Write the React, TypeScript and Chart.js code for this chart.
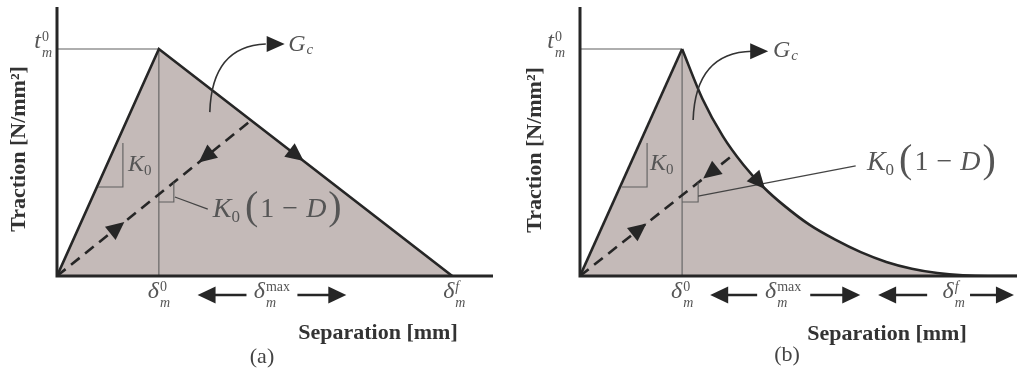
import { useEffect, useRef } from "react";
import { Chart, registerables } from "chart.js";

Chart.register(...registerables);

// Separation is normalised to the onset value δ_m^0, traction to t_m^0.
const X_MAX = 4.28;
const Y_MAX = 1.185;
const PEAK_SEP = 1;
const PEAK_TRAC = 1;

// (a) bilinear law
const linearSepA = [0, 1, 3.88];
const linearTracA = [0, 1, 0];
const unloadSepA = [0, 1.91];
const unloadTracA = [0, 0.687];

// (b) linear rise followed by exponential softening
const riseSepB = [0, 1];
const riseTracB = [0, 1];
const softSepB = [1, 1.2, 1.4, 1.6, 1.8, 2.0, 2.25, 2.5, 2.75, 3.0, 3.25, 3.5, 3.75, 4.0, 4.28];
const softTracB = [1, 0.78, 0.615, 0.49, 0.39, 0.31, 0.225, 0.16, 0.105, 0.062, 0.032, 0.013, 0.003, 0, 0];
const unloadSepB = [0, 1.51];
const unloadTracB = [0, 0.537];

// separation tick labels δ_m^{0 | max | f}
const tickSup = ["0", "max", "f"];
const tickSupItalic = [false, false, true];
const tickPosA = [1, 2.11, 3.9];
const tickPosB = [1, 1.99, 3.66];
const rangeArrowsA: [number, number][] = [[1.86, 1.38], [2.36, 2.84]];
const rangeArrowsB: [number, number][] = [[1.735, 1.275], [2.255, 2.745], [3.4, 2.92], [3.82, 4.25]];

const FILL = "#c4bab8";
const INK = "#262626";
const THIN = "#5e5e5e";
const LABEL = "#555555";
const TITLE = "#333333";
const SERIF = "'Liberation Serif', 'Times New Roman', serif";

type Run = { s: string; size: number; italic?: boolean; bold?: boolean; dy?: number; gap?: number; stack?: boolean };

const runFont = (r: Run) => `${r.italic ? "italic " : ""}${r.bold ? "bold " : ""}${r.size}px ${SERIF}`;

function layoutRuns(ctx: CanvasRenderingContext2D, runs: Run[]) {
  const out: { r: Run; x: number }[] = [];
  let x = 0, lastStart = 0, lastW = 0;
  for (const r of runs) {
    ctx.font = runFont(r);
    const w = ctx.measureText(r.s).width;
    if (r.stack) {
      out.push({ r, x: lastStart });
      const adv = Math.max(lastW, w);
      x = lastStart + adv;
      lastW = adv;
    } else {
      x += r.gap ?? 0;
      out.push({ r, x });
      lastStart = x;
      lastW = w;
      x += w;
    }
  }
  return { items: out, width: x };
}

function drawRuns(ctx: CanvasRenderingContext2D, runs: Run[], x0: number, base: number, align: "left" | "center" | "right", color: string) {
  const { items, width } = layoutRuns(ctx, runs);
  const start = align === "left" ? x0 : align === "center" ? x0 - width / 2 : x0 - width;
  ctx.fillStyle = color;
  ctx.textAlign = "left";
  ctx.textBaseline = "alphabetic";
  for (const it of items) {
    ctx.font = runFont(it.r);
    ctx.fillText(it.r.s, start + it.x, base + (it.r.dy ?? 0));
  }
}

const symbol = (base: string, sup: string, supItalic: boolean, sub: string, size: number): Run[] => [
  { s: base, size, italic: true },
  { s: sup, size: Math.round(size * 0.6), italic: supItalic, dy: -Math.round(size * 0.28), gap: 1 },
  { s: sub, size: Math.round(size * 0.6), italic: true, dy: Math.round(size * 0.38), stack: true },
];

const degradedStiffness: Run[] = [
  { s: "K", size: 28, italic: true },
  { s: "0", size: 17, dy: 5, gap: 0 },
  { s: "(", size: 40, dy: 2, gap: 5 },
  { s: "1", size: 28, gap: 2 },
  { s: "\u2212", size: 28, gap: 8 },
  { s: "D", size: 28, italic: true, gap: 8 },
  { s: ")", size: 40, dy: 2, gap: 2 },
];
const initialStiffness: Run[] = [
  { s: "K", size: 24, italic: true },
  { s: "0", size: 15, dy: 4, gap: 0 },
];
const energy: Run[] = [
  { s: "G", size: 24, italic: true },
  { s: "c", size: 15, italic: true, dy: 3, gap: 1 },
];

function arrowHead(ctx: CanvasRenderingContext2D, tx: number, ty: number, ang: number, len: number, half: number) {
  const c = Math.cos(ang), s = Math.sin(ang);
  ctx.beginPath();
  ctx.moveTo(tx, ty);
  ctx.lineTo(tx - len * c + half * s, ty - len * s - half * c);
  ctx.lineTo(tx - len * c - half * s, ty - len * s + half * c);
  ctx.closePath();
  ctx.fill();
}

const zip = (xs: number[], ys: number[]) => xs.map((x, i) => ({ x, y: ys[i] }));

type Panel = {
  name: string;
  pad: { left: number; right: number; top: number; bottom: number };
  envelope: { x: number; y: number }[];
  unload: { x: number; y: number }[];
  datasets: any[];
  ticks: number[];
  rangeArrows: [number, number][];
  yTitle: [number, number];
  xTitle: [number, number];
  letter: [number, number];
  tOffset: number;
  slope: { x: number; y0: number; y1: number; xh: number };
  k0: [number, number];
  square: { x1: number; y: number; top: number };
  leader: [number, number, number, number];
  kd: [number, number];
  arc: number[];
  gc: [number, number];
  envArrowX: number;
  dashArrows: [number, number];
};

const guide = (order: number) => [
  { data: [{ x: 0, y: PEAK_TRAC }, { x: PEAK_SEP, y: PEAK_TRAC }], borderColor: THIN, borderWidth: 1.1, pointRadius: 0, fill: false, order },
  { data: [{ x: PEAK_SEP, y: 0 }, { x: PEAK_SEP, y: PEAK_TRAC }], borderColor: THIN, borderWidth: 1.1, pointRadius: 0, fill: false, order },
];

const dashed = (pts: { x: number; y: number }[]) => ({
  data: pts, borderColor: INK, borderWidth: 2.6, borderDash: [11, 7], pointRadius: 0, fill: false, order: 1,
});

const envA = zip(linearSepA, linearTracA);
const unlA = zip(unloadSepA, unloadTracA);
const riseB = zip(riseSepB, riseTracB);
const softB = zip(softSepB, softTracB);
const unlB = zip(unloadSepB, unloadTracB);

const PANEL_A: Panel = {
  name: "(a)",
  pad: { left: 57, right: 19, top: 7, bottom: 103 },
  envelope: envA,
  unload: unlA,
  datasets: [
    { data: envA, borderColor: INK, borderWidth: 2.6, backgroundColor: FILL, fill: "origin", pointRadius: 0, order: 0 },
    dashed(unlA),
    ...guide(2),
  ],
  ticks: tickPosA,
  rangeArrows: rangeArrowsA,
  yTitle: [19, 149],
  xTitle: [378, 333],
  letter: [262, 357],
  tOffset: 5,
  slope: { x: 0.647, y0: 0.392, y1: 0.586, xh: 0.402 },
  k0: [0.696, 0.463],
  square: { x1: 1.147, y: 0.326, top: 0.413 },
  leader: [1.157, 0.348, 1.48, 0.295],
  kd: [1.53, 0.26],
  arc: [1.5, 0.722, 1.52, 1.013, 2.05, 1.022, 2.235, 1.022],
  gc: [2.27, 0.99],
  envArrowX: 2.36,
  dashArrows: [0.76, 0.314],
};

const PANEL_B: Panel = {
  name: "(b)",
  pad: { left: 68, right: 7, top: 7, bottom: 103 },
  envelope: [...riseB, ...softB.slice(1)],
  unload: unlB,
  datasets: [
    { data: riseB, borderColor: INK, borderWidth: 2.6, backgroundColor: FILL, fill: "origin", pointRadius: 0, order: 0 },
    { data: softB, borderColor: INK, borderWidth: 2.6, backgroundColor: FILL, fill: "origin", pointRadius: 0, cubicInterpolationMode: "monotone", order: 0 },
    dashed(unlB),
    ...guide(2),
  ],
  ticks: tickPosB,
  rangeArrows: rangeArrowsB,
  yTitle: [23, 150],
  xTitle: [375, 334],
  letter: [275, 355],
  tOffset: 15,
  slope: { x: 0.657, y0: 0.392, y1: 0.586, xh: 0.41 },
  k0: [0.686, 0.467],
  square: { x1: 1.157, y: 0.326, top: 0.412 },
  leader: [1.157, 0.352, 2.7, 0.485],
  kd: [2.81, 0.467],
  arc: [1.108, 0.687, 1.13, 0.985, 1.686, 0.99, 1.843, 0.99],
  gc: [1.89, 0.965],
  envArrowX: 1.76,
  dashArrows: [0.84, 0.39],
};

function annotations(p: Panel) {
  return {
    id: "tsl-annotations",
    afterDatasetsDraw(chart: any) {
      const ctx: CanvasRenderingContext2D = chart.ctx;
      const xs = chart.scales.x, ys = chart.scales.y;
      const px = (v: number) => xs.getPixelForValue(v);
      const py = (v: number) => ys.getPixelForValue(v);
      const area = chart.chartArea;
      ctx.save();

      // axes
      ctx.strokeStyle = INK;
      ctx.lineWidth = 3;
      ctx.lineCap = "butt";
      ctx.beginPath();
      ctx.moveTo(area.left, area.top);
      ctx.lineTo(area.left, area.bottom);
      ctx.lineTo(area.right, area.bottom);
      ctx.stroke();

      // stiffness triangles
      ctx.strokeStyle = THIN;
      ctx.lineWidth = 1.1;
      ctx.beginPath();
      ctx.moveTo(px(p.slope.x), py(p.slope.y1));
      ctx.lineTo(px(p.slope.x), py(p.slope.y0));
      ctx.lineTo(px(p.slope.xh), py(p.slope.y0));
      ctx.moveTo(px(PEAK_SEP), py(p.square.y));
      ctx.lineTo(px(p.square.x1), py(p.square.y));
      ctx.lineTo(px(p.square.x1), py(p.square.top));
      ctx.stroke();

      // leader to K0(1-D)
      ctx.strokeStyle = "#444";
      ctx.lineWidth = 1.3;
      ctx.beginPath();
      ctx.moveTo(px(p.leader[0]), py(p.leader[1]));
      ctx.lineTo(px(p.leader[2]), py(p.leader[3]));
      ctx.stroke();

      // arrow on the softening branch
      ctx.fillStyle = INK;
      const env = p.envelope;
      for (let i = 0; i < env.length - 1; i++) {
        const a = env[i], b = env[i + 1];
        if (p.envArrowX >= a.x && p.envArrowX <= b.x) {
          const t = (p.envArrowX - a.x) / (b.x - a.x);
          const X = px(p.envArrowX), Y = py(a.y + t * (b.y - a.y));
          const ang = Math.atan2(py(b.y) - py(a.y), px(b.x) - px(a.x));
          arrowHead(ctx, X + 8 * Math.cos(ang), Y + 8 * Math.sin(ang), ang, 18, 8.5);
          break;
        }
      }

      // arrows on the unloading / reloading path
      const u0 = p.unload[0], u1 = p.unload[1];
      const ox = px(u0.x), oy = py(u0.y), ex = px(u1.x), ey = py(u1.y);
      const out = Math.atan2(ey - oy, ex - ox);
      const back = out + Math.PI;
      const pBack = p.dashArrows[0], pOut = p.dashArrows[1];
      let X = ox + (ex - ox) * pBack, Y = oy + (ey - oy) * pBack;
      arrowHead(ctx, X + 8 * Math.cos(back), Y + 8 * Math.sin(back), back, 18, 8.5);
      X = ox + (ex - ox) * pOut; Y = oy + (ey - oy) * pOut;
      arrowHead(ctx, X + 8 * Math.cos(out), Y + 8 * Math.sin(out), out, 18, 8.5);

      // curved arrow pointing at the fracture energy
      const [sx, sy, cx, cy, qx, qy, tx, ty] = p.arc;
      ctx.strokeStyle = "#333";
      ctx.lineWidth = 1.6;
      ctx.beginPath();
      ctx.moveTo(px(sx), py(sy));
      ctx.quadraticCurveTo(px(cx), py(cy), px(qx), py(qy));
      ctx.stroke();
      ctx.fillStyle = INK;
      arrowHead(ctx, px(tx), py(ty), Math.atan2(py(ty) - py(qy), px(tx) - px(qx)), 18, 8);

      // range arrows along the separation axis
      const arrowY = area.bottom + 19;
      ctx.strokeStyle = INK;
      ctx.lineWidth = 2.6;
      for (const [from, to] of p.rangeArrows) {
        const x1 = px(from), x2 = px(to);
        const dir = Math.sign(x2 - x1);
        ctx.beginPath();
        ctx.moveTo(x1, arrowY);
        ctx.lineTo(x2 - dir * 10, arrowY);
        ctx.stroke();
        arrowHead(ctx, x2, arrowY, dir > 0 ? 0 : Math.PI, 18, 8.5);
      }

      // tick symbols
      const tickBase = area.bottom + 22;
      p.ticks.forEach((v, i) => {
        drawRuns(ctx, symbol("\u03b4", tickSup[i], tickSupItalic[i], "m", 24), px(v), tickBase, "center", LABEL);
      });
      drawRuns(ctx, symbol("t", "0", false, "m", 24), area.left - p.tOffset, py(PEAK_TRAC) - 1, "right", LABEL);

      drawRuns(ctx, initialStiffness, px(p.k0[0]), py(p.k0[1]), "left", LABEL);
      drawRuns(ctx, degradedStiffness, px(p.kd[0]), py(p.kd[1]), "left", LABEL);
      drawRuns(ctx, energy, px(p.gc[0]), py(p.gc[1]), "left", LABEL);

      // axis titles and panel letter
      ctx.fillStyle = TITLE;
      ctx.textAlign = "center";
      ctx.textBaseline = "middle";
      ctx.font = `bold 22px ${SERIF}`;
      ctx.fillText("Separation [mm]", p.xTitle[0], p.xTitle[1]);
      ctx.save();
      ctx.translate(p.yTitle[0], p.yTitle[1]);
      ctx.rotate(-Math.PI / 2);
      ctx.fillText("Traction [N/mm\u00b2]", 0, 0);
      ctx.restore();
      ctx.font = `22px ${SERIF}`;
      ctx.fillStyle = "#444";
      ctx.fillText(p.name, p.letter[0], p.letter[1]);

      ctx.restore();
    },
  };
}

function buildConfig(p: Panel): any {
  return {
    type: "line",
    data: { datasets: p.datasets },
    options: {
      animation: false,
      responsive: true,
      maintainAspectRatio: false,
      events: [],
      layout: { padding: p.pad },
      elements: { line: { tension: 0, borderCapStyle: "butt", borderJoinStyle: "miter" } },
      scales: {
        x: { type: "linear", min: 0, max: X_MAX, display: false },
        y: { type: "linear", min: 0, max: Y_MAX, display: false },
      },
      plugins: {
        legend: { display: false },
        tooltip: { enabled: false },
        filler: { drawTime: "beforeDatasetsDraw" },
      },
    },
    plugins: [annotations(p)],
  };
}

export default function App() {
  const refA = useRef<HTMLCanvasElement>(null);
  const refB = useRef<HTMLCanvasElement>(null);

  useEffect(() => {
    const a = new Chart(refA.current!, buildConfig(PANEL_A));
    const b = new Chart(refB.current!, buildConfig(PANEL_B));
    return () => {
      a.destroy();
      b.destroy();
    };
  }, []);

  return (
    <div style={{ position: "fixed", left: 0, top: 0, width: 1024, height: 379, display: "flex", background: "#fff" }}>
      <div style={{ position: "relative", width: 512, height: 379 }}>
        <canvas ref={refA} />
      </div>
      <div style={{ position: "relative", width: 512, height: 379 }}>
        <canvas ref={refB} />
      </div>
    </div>
  );
}
